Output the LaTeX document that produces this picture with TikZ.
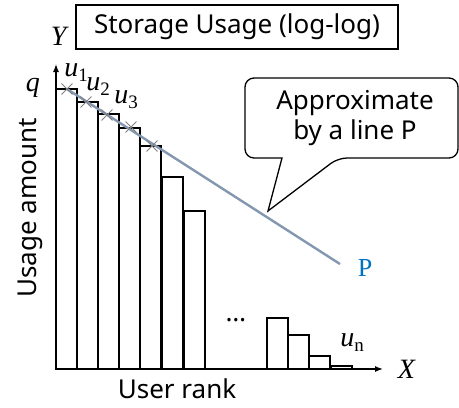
\documentclass[tikz,border=0pt]{standalone}
\usepackage{fontspec}
\setmainfont{Noto Sans}
\newfontfamily\lettres{Liberation Serif}
\usetikzlibrary{arrows.meta,shapes.misc}
\definecolor{ligneP}{HTML}{8497B0}
\definecolor{bleuP}{HTML}{0070C0}
% lettre italique avec indice droit
\newcommand{\uind}[1]{\textit{u}\raisebox{-5pt}{\fontsize{19}{19}\selectfont #1}}

\begin{document}
\begin{tikzpicture}[x=1pt,y=-1pt,line width=1.3pt,
  barre/.style={draw,fill=white},
  croix/.style={draw=gray,cross out,minimum size=10pt,inner sep=0pt,line width=.9pt},
  texte/.style={font=\fontsize{26}{30}\selectfont},
  lettre/.style={font=\lettres\fontsize{28}{30}\selectfont,inner sep=0pt}]
\useasboundingbox (0,0) rectangle (459,408);
% Titre encadre en haut.
\node[draw,texte,minimum width=322pt,minimum height=44pt,inner sep=0pt] (titre) at (237,27) {Storage Usage (log-log)};
% Les axes, origine en bas a gauche.
\coordinate (O) at (56,369);
\coordinate (Xfin) at (383,369);
\coordinate (Yfin) at (56,64);
\draw[-{Latex[length=8pt,width=6pt]}] (O) -- (Xfin);
\draw[-{Latex[length=8pt,width=6pt]}] (O) -- (Yfin);
\node[lettre] (Y) at (60,36) {\textit{Y}};
\node[lettre] (X) at (407,369) {\textit{X}};
\node[lettre] (q) at (33,88) {\textit{q}};
\node[texte,rotate=90] (ordonnee) at (30,208) {Usage amount};
\node[texte] (abscisse) at (177,389) {User rank};
% Barres des premiers utilisateurs, puis celles de la queue.
\foreach \g/\h in {56/89,77/102,98/114,119/128,140/146,162/177,184/211}
  \draw[barre] (\g,369) rectangle (\g+21,\h);
\foreach \g/\h in {267/318,288/335,309/356,331/366}
  \draw[barre] (\g,369) rectangle (\g+21,\h);
\node[texte,anchor=base] (points) at (236,321) {\dots};
% La droite P et les points qu'elle approche.
\coordinate (P0) at (67,89);
\coordinate (P1) at (340,264);
\draw[ligneP,line width=2.4pt] (P0) -- (P1);
\foreach \x/\y [count=\i] in {67/89,86/102,107/115,131/127,152/146}
  \node[croix] (c\i) at (\x,\y) {};
\node[lettre,text=bleuP,font=\lettres\fontsize{26}{28}\selectfont] (P) at (365,268) {P};
\node[lettre] (u1) at (76,73) {\uind{1}};
\node[lettre] (u2) at (98,87) {\uind{2}};
\node[lettre] (u3) at (126,100) {\uind{3}};
\node[lettre] (un) at (352,343) {\uind{n}};
% La bulle qui pointe sur la droite.
\node[texte,align=center] (bulle) at (355,118) {Approximate\\by a line P};
\coordinate (pointe) at (268,211);
\draw[rounded corners=9pt] (245,78) -- (458,78) -- (458,158) -- (338,158)
  [sharp corners] -- (pointe) -- (282,158) [rounded corners=9pt] -- (245,158) -- cycle;
\end{tikzpicture}
\end{document}
